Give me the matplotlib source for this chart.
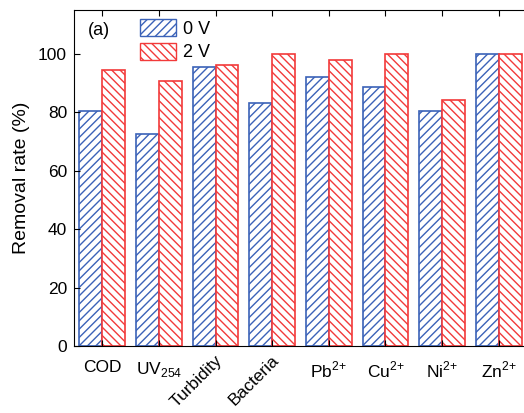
import numpy as np
import matplotlib
matplotlib.use("Agg")
import matplotlib.pyplot as plt
import matplotlib.transforms as mtransforms
from matplotlib.patches import Patch

plt.rcParams['font.family'] = ['Liberation Sans', 'DejaVu Sans']
plt.rcParams['mathtext.fontset'] = 'custom'
plt.rcParams['mathtext.rm'] = 'Liberation Sans'
plt.rcParams['hatch.linewidth'] = 1.0

categories = ['COD', r'UV$_{\mathregular{254}}$', 'Turbidity', 'Bacteria',
              r'Pb$^{\mathregular{2{+}}}$', r'Cu$^{\mathregular{2{+}}}$',
              r'Ni$^{\mathregular{2{+}}}$', r'Zn$^{\mathregular{2{+}}}$']
rate_0v = [80.5, 72.5, 95.5, 83.2, 92.1, 88.7, 80.5, 100.0]
rate_2v = [94.5, 90.7, 96.3, 100.0, 97.9, 100.0, 84.2, 100.0]
series_labels = ['0 V', '2 V']

blue = '#3b62b8'
red = '#f23a3a'

fig = plt.figure(figsize=(5.24, 4.13), dpi=100)
ax = fig.add_axes([74/524, 67/413, 453/524, 336/413])

x = np.arange(1, len(categories) + 1)
w = 0.405
ax.bar(x - w/2, rate_0v, w, facecolor='white', edgecolor=blue, hatch='////', linewidth=1.2)
ax.bar(x + w/2, rate_2v, w, facecolor='white', edgecolor=red, hatch='\\\\\\\\', linewidth=1.2)

ax.set_xlim(0.5, 8.5)
ax.set_ylim(0, 115)
ax.set_yticks([0, 20, 40, 60, 80, 100])
ax.set_xticks(x)
ax.set_xticklabels(categories)
ax.tick_params(axis='both', direction='in', labelsize=12.5, length=4, width=0.8)
ax.tick_params(axis='y', pad=5)
ax.tick_params(axis='x', top=True, pad=10)
ax.set_ylabel('Removal rate (%)', fontsize=14, labelpad=6)

# rotated labels sit a bit to the right of their ticks and higher up
offset = mtransforms.ScaledTranslation(10/100, 7/100, fig.dpi_scale_trans)
for i, lab in enumerate(ax.get_xticklabels()):
    if i in (2, 3):
        lab.set_rotation(45)
        lab.set_ha('right')
        lab.set_transform(lab.get_transform() + offset)

ax.text(0.031, 0.965, '(a)', transform=ax.transAxes, fontsize=13, va='top', ha='left')

handles = [Patch(facecolor='white', edgecolor=blue, hatch='////', label=series_labels[0]),
           Patch(facecolor='white', edgecolor=red, hatch='\\\\\\\\', label=series_labels[1])]
fig.legend(handles=handles, loc='upper left', bbox_to_anchor=(140/524, 1 - 19/413),
           frameon=False, borderpad=0, borderaxespad=0, fontsize=13, handlelength=2.0,
           handleheight=1.05, handletextpad=0.4, labelspacing=0.3)

fig.savefig('out.png', dpi=100)
